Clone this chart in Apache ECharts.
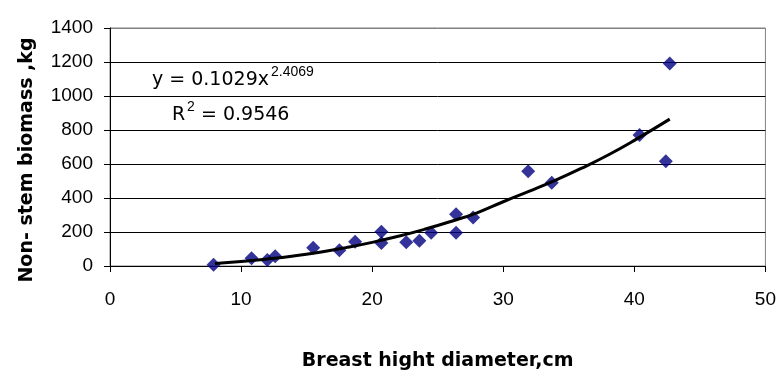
<!DOCTYPE html>
<html>
<head>
<meta charset="utf-8">
<script src="https://cdn.jsdelivr.net/npm/echarts@6/dist/echarts.min.js"></script>
<style>
  html, body { margin: 0; padding: 0; background: #fff; }
  #chart { width: 779px; height: 376px; }
</style>
</head>
<body>
<div id="chart"></div>
<script>
// Measured trees: diameter at breast height (cm) and non-stem biomass (kg)
const dbh = [7.9, 10.8, 12.0, 12.6, 15.5, 17.5, 18.7, 20.7, 20.7, 22.6, 23.6, 24.5, 26.4, 26.4, 27.7, 31.9, 33.7, 40.4, 42.4, 42.7];
const biomass = [8, 45, 35, 58, 107, 92, 143, 201, 135, 139, 148, 195, 304, 195, 285, 558, 490, 770, 616, 1191];

// Power trend line
const trendX = [8, 10, 12, 14, 16, 18, 20, 22, 24, 26, 28, 30, 32, 34, 36, 38, 40, 42.7];
const trendY = [15, 26, 41, 59, 81, 108, 139, 175, 216, 262, 313, 378, 440, 505, 576, 653, 739, 864];

const font = '"Liberation Sans", Arial, sans-serif';
const wideFont = '"DejaVu Sans", sans-serif';

const chart = echarts.init(document.getElementById('chart'));

// small helper for the trend-line equation pieces
function eqText(text, x, y, size) {
  return {
    type: 'text', x: x, y: y,
    style: {
      text: text, fontFamily: size < 19 ? font : wideFont, fontSize: size,
      fill: '#000', align: 'left', verticalAlign: 'middle'
    }
  };
}

const option = {
  backgroundColor: '#fff',
  animation: false,
  grid: {
    left: 110, right: 13, top: 28, bottom: 108,
    show: true, borderColor: '#808080', borderWidth: 1
  },
  graphic: [
    eqText('y = 0.1029x', 152, 80, 19),
    eqText('2.4069', 271, 72, 14),
    eqText('R', 172, 115, 19),
    eqText('2', 187, 107, 14),
    eqText('= 0.9546', 201, 115, 19),
    {
      // y axis title, centred a little below the plot middle like the original
      type: 'text', x: 27, y: 160, rotation: Math.PI / 2,
      style: {
        text: 'Non- stem biomass ,kg',
        fontFamily: wideFont, fontSize: 19, fontWeight: 'bold', fill: '#000',
        align: 'center', verticalAlign: 'middle'
      }
    }
  ],
  xAxis: {
    type: 'value', min: 0, max: 50, interval: 10,
    name: 'Breast hight diameter,cm',
    nameLocation: 'middle', nameGap: 86,
    nameTextStyle: { fontFamily: wideFont, fontSize: 19, fontWeight: 'bold', color: '#000' },
    axisLine: { show: true, onZero: false, lineStyle: { color: '#000', width: 1 } },
    axisTick: { show: true, inside: false, length: 6, lineStyle: { color: '#000' } },
    axisLabel: { fontFamily: font, fontSize: 19, color: '#000', margin: 24 },
    splitLine: { show: false }
  },
  yAxis: {
    type: 'value', min: 0, max: 1400, interval: 200,
    axisLine: { show: true, lineStyle: { color: '#000', width: 1 } },
    axisTick: { show: true, inside: false, length: 6, lineStyle: { color: '#000' } },
    axisLabel: { fontFamily: font, fontSize: 19, color: '#000', margin: 17, formatter: v => String(v) },
    splitLine: {
      show: true,
      lineStyle: { color: ['#000', '#000', '#000', '#000', '#000', '#000', '#000', '#808080'], width: 1 }
    }
  },
  series: [
    {
      type: 'line',
      data: trendX.map((x, i) => [x, trendY[i]]),
      showSymbol: false,
      smooth: true,
      lineStyle: { color: '#000', width: 3 },
      z: 3
    },
    {
      type: 'scatter',
      data: dbh.map((x, i) => [x, biomass[i]]),
      symbol: 'diamond',
      symbolSize: 14,
      itemStyle: { color: '#000080' },
      z: 2
    }
  ]
};

chart.setOption(option);
</script>
</body>
</html>
